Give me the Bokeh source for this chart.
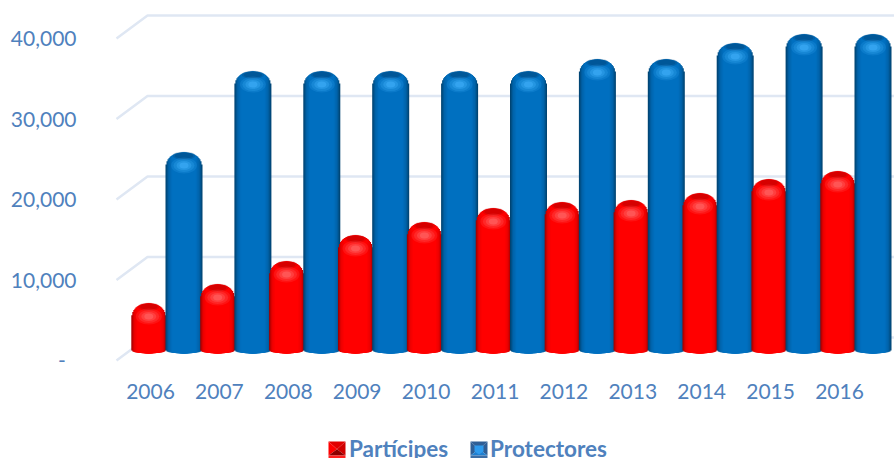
from bokeh.plotting import figure
from bokeh.embed import file_html
from bokeh.resources import INLINE
from bokeh.models import (ColumnDataSource, Range1d, FixedTicker, NumeralTickFormatter,
                          Legend, LegendItem, PolyAnnotation)

years = [2006, 2007, 2008, 2009, 2010, 2011, 2012, 2013, 2014, 2015, 2016]
participes = [6087, 8447, 11304, 14534, 16149, 17888, 18634, 18882, 19752, 21491, 22484]
protectores = [24845, 34900, 34900, 34900, 34900, 34900, 36400, 36400, 38385, 39500, 39500]
value_ticks = [0, 10000, 20000, 30000, 40000]

TXT = "#4f81bd"
S = 0.00805      # px per value
PX = 68.9        # px per year
FONT = "Lato"
H = 458

FRAME_L, FRAME_R = 84, 894
FRAME_T, FRAME_B = 0, H
ZERO = 359       # page y of value 0 for the axis
X0 = 150         # page x of first year label

def px_x(px):
    return px / PX

p = figure(width=894, height=H, output_backend="svg", toolbar_location=None,
           x_range=Range1d(years[0] + px_x(FRAME_L - X0), years[0] + px_x(FRAME_R - X0)),
           y_range=Range1d((ZERO - FRAME_B) / S, (ZERO - FRAME_T) / S),
           min_border_left=FRAME_L, min_border_right=0, min_border_top=0,
           min_border_bottom=0, outline_line_color=None,
           background_fill_color="white", border_fill_color="white")
p.grid.visible = False

for ax in (p.xaxis[0], p.yaxis[0]):
    ax.axis_line_color = None
    ax.major_tick_line_color = None
    ax.minor_tick_line_color = None
    ax.major_label_text_color = TXT
    ax.major_label_text_font = FONT
    ax.major_label_text_font_size = "21px"
p.xaxis[0].ticker = FixedTicker(ticks=years)
p.xaxis[0].fixed_location = (ZERO - 370) / S
p.xaxis[0].major_label_standoff = 7
p.yaxis[0].ticker = FixedTicker(ticks=value_ticks)
p.yaxis[0].formatter = NumeralTickFormatter(format="0,0")
p.yaxis[0].major_label_overrides = {0: "-\u00a0\u00a0"}
p.yaxis[0].major_label_standoff = 2

# 3D wall gridlines (front end 1px below axis label centre)
WALL = 1 / S
gx, gy = [], []
for v in value_ticks[1:] + [0]:
    gx.append([years[0] + px_x(116 - X0), years[0] + px_x(147 - X0), years[0] + px_x(900 - X0)])
    gy.append([v - WALL, v - WALL + 23 / S, v - WALL + 23 / S])
p.multi_line(gx, gy, line_color="#dfe7f3", line_width=2.5)

BASE = 7 / S   # bars stand on a plane behind the front

def lerp(a, b, t):
    return tuple(a[i] + (b[i] - a[i]) * t for i in range(3))

def hexc(c):
    return "#%02x%02x%02x" % tuple(int(round(x)) for x in c)

def cyl(x, val, w, edge, mid, core, cap, glow):
    hw = w / 2
    rows = dict(x=[], top=[], bottom=[], width=[], color=[])
    n = int(hw)
    for i in range(n + 1):
        half = hw - i
        u = half / hw
        us = max(0, half - 0.5) / hw
        drop = 18 * (1 - (1 - us ** 2.5) ** (1 / 2.5))
        dip = 3 * (1 - u ** 2) ** 0.5
        t = 1 - u
        if t < 0.14:
            c = lerp(edge, mid, t / 0.14)
        else:
            c = lerp(mid, core, min(1, (t - 0.14) / 0.2))
        rows["x"].append(x)
        rows["top"].append(val + BASE - drop / S)
        rows["bottom"].append(BASE + (2 - dip) / S)
        rows["width"].append(2 * half / PX)
        rows["color"].append(hexc(c))
    r = p.vbar(x="x", top="top", bottom="bottom", width="width", fill_color="color",
               line_color=None, source=ColumnDataSource(rows))
    top = val + BASE
    # darker upper cap
    for ww, hh, a in [(w * 0.62, 8, 0.3), (w * 0.5, 6, 0.4)]:
        p.ellipse(x=[x], y=[top - 3.2 / S], width=[ww], height=[hh],
                  width_units="screen", height_units="screen", fill_color=cap, fill_alpha=a, line_color=None)
    # soft highlight
    for ww, hh, a in [(26, 16, 0.16), (21, 13, 0.22), (15, 9, 0.32), (9, 6, 0.45)]:
        p.ellipse(x=[x], y=[top - 13 / S], width=[ww], height=[hh],
                  width_units="screen", height_units="screen", fill_color=glow, fill_alpha=a, line_color=None)
    return r

R_OFF, B_OFF = -1.7 / PX, 33.5 / PX
R_W, B_W = 35, 37

# flat series, used for the legend entries (transparent: the shaded cylinders and bevelled keys show instead)
r_base = p.vbar(x=[y + R_OFF for y in years], top=[v + BASE - 18 / S for v in participes], bottom=BASE + 2 / S,
                width=R_W / PX, fill_color="#e00000", fill_alpha=0, line_color=None)
b_base = p.vbar(x=[y + B_OFF for y in years], top=[v + BASE - 18 / S for v in protectores], bottom=BASE + 2 / S,
                width=B_W / PX, fill_color="#0064ac", fill_alpha=0, line_color=None)

for y, a, b in zip(years, participes, protectores):
    cyl(y + R_OFF, a, R_W, (165, 0, 0), (235, 0, 0), (255, 0, 0), "#b80000", "#ff7070")
    cyl(y + B_OFF, b, B_W, (0, 68, 115), (0, 98, 168), (0, 112, 192), "#00477c", "#45b4ff")

legend = Legend(items=[LegendItem(label="Partícipes", renderers=[r_base]),
                       LegendItem(label="Protectores", renderers=[b_base])],
                orientation="horizontal", location=(328 - FRAME_L, -4), padding=0, margin=0,
                glyph_width=17, glyph_height=17, label_standoff=4, spacing=21,
                background_fill_alpha=0, border_line_color=None,
                label_text_font=FONT, label_text_font_style="bold",
                label_text_font_size="22.5px", label_text_color=TXT)
p.add_layout(legend, "center")

def tri(pts, color):
    p.add_layout(PolyAnnotation(xs=[q[0] - FRAME_L for q in pts], ys=[H - q[1] for q in pts],
                                xs_units="screen", ys_units="screen", fill_color=color, fill_alpha=1,
                                line_color=None, level="overlay"))

def icon(x0, y0, sz, left, top, right, bottom, strip):
    c = (x0 + sz / 2, y0 + sz * 0.45)
    tri([(x0, y0), (x0 + sz, y0), c], top)
    tri([(x0, y0), (x0, y0 + sz - 3), c], left)
    tri([(x0 + sz, y0), (x0 + sz, y0 + sz - 3), c], right)
    tri([(x0, y0 + sz - 3), (x0 + sz, y0 + sz - 3), c], bottom)
    tri([(x0, y0 + sz - 3), (x0 + sz, y0 + sz - 3), (x0 + sz, y0 + sz), (x0, y0 + sz)], strip)

icon(328, 441, 17, "#ff0000", "#e00000", "#d00000", "#8c0000", "#ff2020")
icon(470, 441, 17, "#2f5f96", "#2f5f96", "#2f5f96", "#1f7fd0", "#3c6ea6")
tri([(474, 445), (483, 445), (483, 451), (478.5, 454), (474, 451)], "#2e9bee")

open("out.html", "w").write(file_html(p, INLINE))
